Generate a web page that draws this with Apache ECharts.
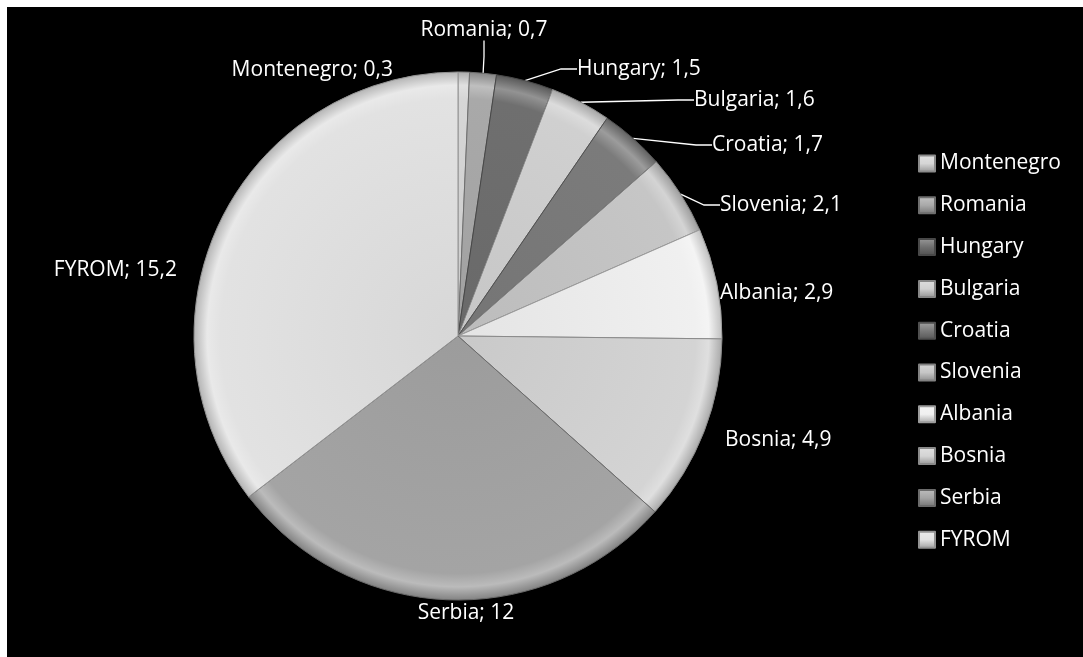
<!DOCTYPE html>
<html>
<head>
<meta charset="utf-8">
<script src="https://cdn.jsdelivr.net/npm/echarts@6/dist/echarts.min.js"></script>
<style>
html,body{margin:0;padding:0;background:#fff;width:1083px;height:657px;overflow:hidden;}
#c{position:absolute;left:7px;top:7px;width:1076px;height:650px;}
</style>
</head>
<body>
<div id="c"></div>
<script>
const categories = ['Montenegro','Romania','Hungary','Bulgaria','Croatia','Slovenia','Albania','Bosnia','Serbia','FYROM'];
const values = [0.3, 0.7, 1.5, 1.6, 1.7, 2.1, 2.9, 4.9, 12, 15.2];
const sliceColors = ['#d6d6d6','#a9a9a9','#6f6f6f','#d0d0d0','#7b7b7b','#c6c6c6','#f0f0f0','#d4d4d4','#a4a4a4','#e2e2e2'];
const showLine = [false,true,true,true,true,true,false,false,false,false];

// label placement (layout only): [x, y, align] in container pixels
const labelPlace = [
  [386, 63, 'right'],
  [477, 23, 'center'],
  [570, 62, 'left'],
  [687, 93, 'left'],
  [705, 138, 'left'],
  [713, 198, 'left'],
  [713, 286, 'left'],
  [718, 433, 'left'],
  [459, 606, 'center'],
  [170, 263, 'right']
];

const CX = 451, CY = 329, R = 264;
const FONT = 'Open Sans';

function shade(hex, f){
  const n = parseInt(hex.slice(1),16);
  let r=(n>>16)&255,g=(n>>8)&255,b=n&255;
  const adj=v=>Math.max(0,Math.min(255,Math.round(f>=0? v+(255-v)*f : v*(1+f))));
  return 'rgb('+adj(r)+','+adj(g)+','+adj(b)+')';
}

const data = categories.map((name,i)=>({
  name, value: values[i],
  itemStyle:{
    color:{type:'radial',x:CX,y:CY,r:R,global:true,colorStops:[
      {offset:0,color:shade(sliceColors[i],-0.05)},
      {offset:0.9,color:sliceColors[i]},
      {offset:0.95,color:shade(sliceColors[i],0.25)},
      {offset:1,color:shade(sliceColors[i],-0.2)}
    ]},
    borderColor: shade(sliceColors[i],-0.35),
    borderWidth: 1
  },
  labelLine:{show:showLine[i]}
}));

const chart = echarts.init(document.getElementById('c'));
chart.setOption({
  backgroundColor:'#000',
  animation:false,
  legend:{
    orient:'vertical',
    left: 906, top: 141,
    itemWidth:16, itemHeight:16, itemGap:20.8,
    icon:'rect',
    data: categories.map((n,i)=>({name:n, itemStyle:{color:{type:'linear',x:0,y:0,x2:0,y2:1,colorStops:[{offset:0,color:shade(sliceColors[i],0.3)},{offset:0.5,color:sliceColors[i]},{offset:1,color:shade(sliceColors[i],-0.3)}]}}})),
    textStyle:{color:'#fff', fontSize:21, lineHeight:20, fontFamily:FONT}
  },
  series:[{
    type:'pie',
    center:[CX,CY],
    radius:[0,R],
    startAngle:90,
    clockwise:true,
    avoidLabelOverlap:false,
    data,
    label:{
      show:true,
      color:'#fff',
      fontSize:21,
      fontFamily:FONT,
      formatter:p=>p.name+'; '+String(p.value).replace('.',',')
    },
    labelLine:{show:true,length:12,length2:16,lineStyle:{color:'#fff',width:1.3}},
    labelLayout:function(p){
      const lp = labelPlace[p.dataIndex];
      return {x:lp[0], y:lp[1], align:lp[2], verticalAlign:'middle'};
    },
    emphasis:{disabled:true}
  }]
});
</script>
</body>
</html>
